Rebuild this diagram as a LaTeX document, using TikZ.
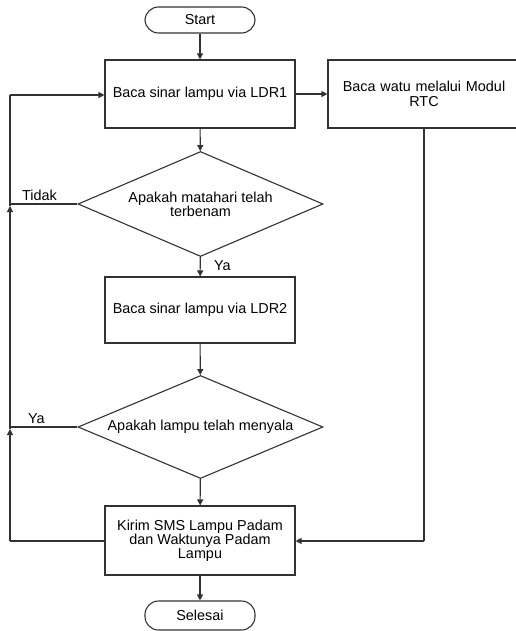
\documentclass[tikz,border=0pt]{standalone}
\usepackage{fontspec}
\setmainfont{Liberation Sans}
\usetikzlibrary{shapes.geometric,arrows.meta}
\definecolor{ln}{RGB}{50,50,50}
\begin{document}
\begin{tikzpicture}[x=1pt,y=-1pt,
  every node/.style={font=\fontsize{14.4}{14}\selectfont, text=black},
  proc/.style={draw=ln, line width=1.1pt, rectangle, minimum width=190pt, inner sep=0pt, align=center},
  term/.style={draw=ln, line width=1.1pt, rectangle, rounded corners=13.5pt, minimum width=110pt, inner sep=0pt},
  dec/.style={draw=ln, line width=1.1pt, diamond, aspect=2.35, minimum width=245pt, inner sep=0pt, align=center},
  conn/.style={draw=ln, line width=1.1pt},
  arr/.style={conn, -{Triangle[length=6pt,width=6pt]}},
  lbl/.style={inner sep=0pt}
]
\clip (0,0) rectangle (516,631);
\node[term, minimum height=26pt] (start) at (200,20) {Start};
\node[proc, minimum height=68pt] (b1) at (200,94) {Baca sinar lampu via LDR1};
\node[proc, minimum width=192pt, minimum height=68pt, text width=190pt] (rtc) at (424,94) {Baca watu melalui Modul\\[1pt]RTC};
\node[dec, minimum height=105pt] (d1) at (200.5,204) {Apakah matahari telah\\terbenam};
\node[proc, minimum height=66pt] (b2) at (200,310) {Baca sinar lampu via LDR2};
\node[dec, minimum height=103pt] (d2) at (200.5,427) {Apakah lampu telah menyala};
\node[proc, minimum height=69pt] (b3) at (200,540.5) {Kirim SMS Lampu Padam\\dan Waktunya Padam\\Lampu};
\node[term, minimum height=29pt] (end) at (200,615.5) {Selesai};

\coordinate (c0) at (10,95);
\coordinate (j1) at (10,206);
\coordinate (j2) at (10,429);
\coordinate (c3) at (10,541);
\coordinate (r3) at (424,541);

\draw[arr] (start) -- (b1);
\draw[arr] (b1) -- (rtc);
\draw[arr] (b1) -- (d1);
\draw[arr] (d1) -- (b2);
\draw[arr] (b2) -- (d2);
\draw[arr] (d2) -- (b3);
\draw[arr] (b3) -- (end);
\draw[conn] (rtc.south) -- (r3);
\draw[arr] (r3) -- (b3.east |- r3);

\draw[conn] (b3.west |- c3) -- (c3);
\draw[arr] (c3) -- (j2);
\draw[arr] (j2) -- (j1);
\draw[conn] (j1) -- (c0);
\draw[arr] (c0) -- (b1.west |- c0);
\draw[conn] (d1.west) -- (d1.west -| c0);
\draw[conn] (d2.west) -- (d2.west -| c0);

\node[lbl, anchor=base west] (tidak) at (22,200) {Tidak};
\node[lbl, anchor=base west] (ya1) at (28,423.5) {Ya};
\node[lbl, anchor=base west] (ya2) at (214,270) {Ya};
\end{tikzpicture}
\end{document}
